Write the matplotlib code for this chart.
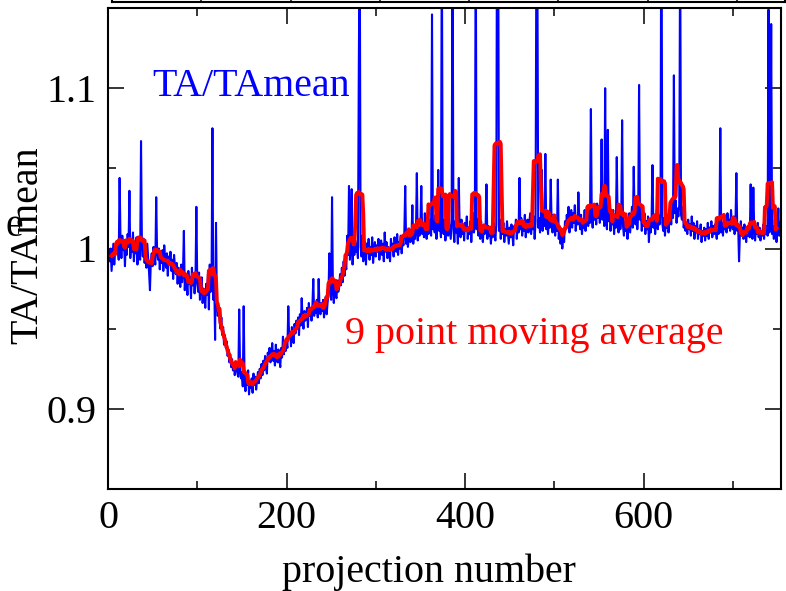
import numpy as np
import matplotlib
matplotlib.use("Agg")
import matplotlib.pyplot as plt
from matplotlib.ticker import MultipleLocator

plt.rcParams['font.family'] = ['Liberation Serif', 'DejaVu Serif']

# TA/TAmean per projection (projection 0..753)
ta_ratio = [
    0.996, 0.999, 0.992, 1.000, 0.986, 0.995, 1.003, 0.990, 0.998, 1.004,
    0.997, 1.002, 0.993, 1.044, 1.006, 0.994, 1.008, 0.999, 1.003, 0.989,
    1.005, 0.996, 1.009, 1.001, 1.036, 0.994, 1.006, 0.998, 1.010, 0.992,
    1.003, 0.997, 1.007, 0.990, 1.004, 0.999, 0.993, 1.067, 1.002, 0.995,
    1.006, 0.991, 0.999, 0.988, 1.003, 0.994, 0.985, 0.974, 0.992, 0.997,
    0.989, 1.001, 0.995, 0.990, 1.032, 0.998, 0.993, 1.000, 0.987, 0.996,
    0.991, 0.999, 0.986, 1.002, 0.993, 0.988, 0.997, 0.983, 0.995, 0.990,
    0.998, 0.986, 0.993, 0.981, 0.996, 0.989, 0.984, 0.991, 0.978, 0.988,
    0.983, 0.976, 0.990, 0.979, 0.985, 1.011, 0.974, 0.984, 0.980, 0.971,
    0.986, 0.978, 0.982, 0.969, 0.988, 0.977, 0.983, 0.972, 0.980, 1.026,
    0.979, 0.973, 0.985, 0.968, 0.977, 0.982, 0.966, 0.975, 0.970, 0.963,
    0.978, 0.971, 0.984, 0.962, 0.990, 0.973, 0.979, 1.075, 0.968, 0.980,
    0.943, 1.016, 0.966, 0.958, 0.962, 0.955, 0.950, 0.957, 0.946, 0.951,
    0.940, 0.946, 0.938, 0.942, 0.933, 0.937, 0.929, 0.934, 0.926, 0.931,
    0.924, 0.928, 0.921, 0.926, 0.929, 0.922, 0.920, 0.962, 0.924, 0.919,
    0.923, 0.914, 0.964, 0.918, 0.911, 0.921, 0.915, 0.924, 0.909, 0.917,
    0.913, 0.919, 0.910, 0.922, 0.915, 0.920, 0.912, 0.918, 0.923, 0.916,
    0.925, 0.919, 0.928, 0.921, 0.930, 0.924, 0.933, 0.927, 0.922, 0.935,
    0.931, 0.938, 0.929, 0.934, 0.941, 0.930, 0.936, 0.927, 0.940, 0.933,
    0.929, 0.937, 0.931, 0.926, 0.938, 0.932, 0.945, 0.934, 0.940, 0.936,
    0.942, 0.938, 0.964, 0.944, 0.948, 0.939, 0.951, 0.945, 0.941, 0.953,
    0.947, 0.955, 0.950, 0.957, 0.946, 0.959, 0.952, 0.969, 0.956, 0.950,
    0.961, 0.955, 0.958, 0.963, 0.951, 0.966, 0.958, 0.962, 0.955, 0.964,
    0.981, 0.958, 0.965, 0.960, 0.968, 0.957, 0.981, 0.963, 0.959, 0.966,
    0.961, 0.968, 0.957, 0.963, 0.970, 0.959, 0.966, 0.972, 0.997, 0.975,
    0.968, 1.032, 0.974, 0.966, 0.978, 0.971, 0.969, 0.980, 0.973, 0.976,
    0.984, 0.977, 0.988, 0.979, 0.992, 0.983, 0.990, 0.987, 1.008, 0.996,
    1.039, 0.993, 0.999, 1.037, 0.990, 1.002, 0.996, 1.005, 0.998, 1.003,
    0.994, 1.113, 1.200, 1.001, 0.995, 1.008, 0.992, 0.999, 1.004, 0.990,
    1.003, 0.997, 1.006, 0.993, 1.001, 0.996, 1.007, 0.991, 0.999, 1.004,
    0.995, 1.002, 0.998, 1.006, 0.993, 1.000, 1.005, 0.996, 1.003, 0.992,
    1.010, 0.998, 1.004, 0.994, 1.001, 0.997, 0.992, 1.006, 0.999, 1.003,
    0.995, 1.007, 1.001, 0.998, 1.009, 0.996, 1.004, 1.000, 1.008, 0.997,
    1.005, 1.002, 1.010, 1.039, 1.003, 1.009, 1.001, 1.006, 1.011, 1.004,
    1.008, 1.027, 1.003, 1.012, 1.006, 1.010, 1.047, 1.005, 1.013, 1.008,
    1.014, 1.039, 1.009, 1.016, 1.007, 1.022, 1.011, 1.006, 1.015, 1.009,
    1.013, 1.018, 1.008, 1.146, 1.012, 1.017, 1.010, 1.021, 1.006, 1.015,
    1.049, 1.011, 1.016, 1.007, 1.200, 1.013, 1.009, 1.018, 1.005, 1.014,
    1.020, 1.008, 1.016, 1.011, 1.006, 1.019, 1.200, 1.012, 1.004, 1.017,
    1.010, 1.015, 1.003, 1.044, 1.012, 1.007, 1.018, 1.009, 1.014, 1.005,
    1.016, 1.011, 1.020, 1.006, 1.013, 1.009, 1.017, 1.004, 1.014, 1.022,
    1.010, 1.015, 1.200, 1.012, 1.018, 1.008, 1.013, 1.006, 1.017, 1.010,
    1.004, 1.015, 1.009, 1.012, 1.040, 1.006, 1.014, 1.008, 1.011, 1.003,
    1.013, 1.007, 1.016, 1.010, 1.005, 1.015, 1.260, 1.250, 1.011, 1.018,
    1.006, 1.014, 1.009, 1.016, 1.004, 1.012, 1.008, 1.017, 1.010, 1.003,
    1.013, 1.007, 1.015, 1.009, 1.002, 1.014, 1.011, 1.018, 1.006, 1.016,
    1.010, 1.044, 1.012, 1.019, 1.008, 1.015, 1.011, 1.021, 1.007, 1.014,
    1.018, 1.010, 1.016, 1.022, 1.009, 1.015, 1.012, 1.020, 1.006, 1.017,
    1.200, 1.190, 1.013, 1.019, 1.010, 1.016, 1.049, 1.011, 1.021, 1.014,
    1.059, 1.012, 1.018, 1.009, 1.020, 1.013, 1.043, 1.016, 1.010, 1.021,
    1.015, 1.008, 1.019, 1.011, 1.043, 1.006, 1.014, 1.003, 1.010, 1.000,
    1.009, 1.004, 1.017, 1.012, 1.021, 1.015, 1.026, 1.010, 1.019, 1.024,
    1.013, 1.022, 1.016, 1.027, 1.011, 1.020, 1.015, 1.035, 1.018, 1.012,
    1.021, 1.009, 1.017, 1.013, 1.024, 1.011, 1.019, 1.026, 1.014, 1.022,
    1.016, 1.087, 1.020, 1.013, 1.025, 1.018, 1.022, 1.015, 1.028, 1.019,
    1.024, 1.016, 1.021, 1.068, 1.018, 1.026, 1.014, 1.100, 1.020, 1.012,
    1.074, 1.017, 1.023, 1.011, 1.019, 1.015, 1.024, 1.009, 1.020, 1.013,
    1.057, 1.016, 1.010, 1.021, 1.012, 1.018, 1.080, 1.014, 1.008, 1.017,
    1.011, 1.019, 1.006, 1.015, 1.022, 1.010, 1.018, 1.026, 1.013, 1.051,
    1.020, 1.015, 1.027, 1.012, 1.021, 1.102, 1.018, 1.024, 1.011, 1.019,
    1.014, 1.022, 1.009, 1.017, 1.012, 1.020, 1.004, 1.016, 1.010, 1.018,
    1.052, 1.013, 1.021, 1.009, 1.018, 1.024, 1.012, 1.020, 1.015, 1.023,
    1.250, 1.016, 1.011, 1.019, 1.008, 1.017, 1.013, 1.021, 1.010, 1.018,
    1.024, 1.015, 1.028, 1.019, 1.108, 1.022, 1.030, 1.016, 1.025, 1.020,
    1.027, 1.200, 1.021, 1.018, 1.026, 1.013, 1.019, 1.011, 1.016, 1.009,
    1.018, 1.012, 1.015, 1.008, 1.020, 1.011, 1.016, 1.006, 1.014, 1.010,
    1.017, 1.006, 1.012, 1.009, 1.015, 1.004, 1.011, 1.008, 1.013, 1.005,
    1.012, 1.008, 1.016, 1.006, 1.013, 1.010, 1.017, 1.007, 1.014, 1.009,
    1.015, 1.011, 1.006, 1.018, 1.009, 1.013, 1.075, 1.010, 1.016, 1.008,
    1.019, 1.012, 1.017, 1.010, 1.022, 1.013, 1.018, 1.011, 1.024, 1.015,
    1.012, 1.020, 1.009, 1.016, 1.047, 1.011, 1.014, 0.992, 1.010, 1.017,
    1.008, 1.013, 1.006, 1.015, 1.010, 1.004, 1.012, 1.008, 1.014, 1.007,
    1.040, 1.010, 1.006, 1.038, 1.012, 1.005, 1.014, 1.009, 1.016, 1.007,
    1.013, 1.005, 1.011, 1.008, 1.015, 1.006, 1.012, 1.009, 1.014, 1.008,
    1.149, 1.010, 1.016, 1.140, 1.009, 1.014, 1.006, 1.018, 1.010, 1.004,
    1.012, 1.025, 1.008, 1.016,
]
window = 9
x_label = "projection number"
y_label = "TA/TAmean"
blue_note = "TA/TAmean"
red_note = "9 point moving average"

ta = np.array(ta_ratio)
proj = np.arange(len(ta))
ma = np.convolve(ta, np.ones(window) / window, mode="valid")
proj_ma = proj[window // 2: len(ta) - window // 2]

W, H = 786, 591
fig = plt.figure(figsize=(W / 100, H / 100), dpi=100)
fs = 28.8

# partial panel above (only its bottom edge is visible)
ax_top = fig.add_axes([112 / W, 1 - 1.5 / H, 673 / W, 0.5])
ax_top.set_xlim(0, 754)
ax_top.xaxis.set_major_locator(MultipleLocator(200))
ax_top.xaxis.set_minor_locator(MultipleLocator(100))
ax_top.tick_params(which="both", direction="in", labelbottom=False, labelleft=False,
                   width=1.1, top=True, right=True)
ax_top.tick_params(which="major", length=11)
ax_top.tick_params(which="minor", length=5.5)
for s in ax_top.spines.values():
    s.set_linewidth(1.5)
ax_top.set_yticks([])

ax = fig.add_axes([108 / W, (H - 489) / H, 673 / W, 481 / H])
ax.plot(proj, ta, color="#0000FF", lw=1.5)
ax.plot(proj_ma, ma, color="#FF0000", lw=2.8)
ax.set_xlim(0, 754)
ax.set_ylim(0.85, 1.15)
ax.xaxis.set_major_locator(MultipleLocator(200))
ax.xaxis.set_minor_locator(MultipleLocator(100))
ax.set_yticks([0.9, 1.0, 1.1])
ax.set_yticklabels(["0.9", "1", "1.1"])
ax.yaxis.set_minor_locator(MultipleLocator(0.05))
ax.tick_params(which="both", direction="in", top=True, right=True, width=1.1,
               labelsize=fs, pad=8)
ax.tick_params(which="major", length=11.5)
ax.tick_params(which="minor", length=5.5)
for s in ax.spines.values():
    s.set_linewidth(1.5)

ax.text(49.3, 1.0953, blue_note, color="#0000FF", fontsize=fs, ha="left", va="baseline")
ax.text(265.5, 0.9402, red_note, color="#FF0000", fontsize=fs, ha="left", va="baseline")

fig.text(429 / W, (H - 582) / H, x_label, fontsize=fs, ha="center", va="baseline")
fig.text(28 / W, 1 - 245 / H, y_label, fontsize=fs, ha="center", va="center", rotation=90)
fig.text(14 / W, 1 - 226 / H, "e", fontsize=fs, ha="center", va="center")

fig.savefig("out.png", dpi=100)
